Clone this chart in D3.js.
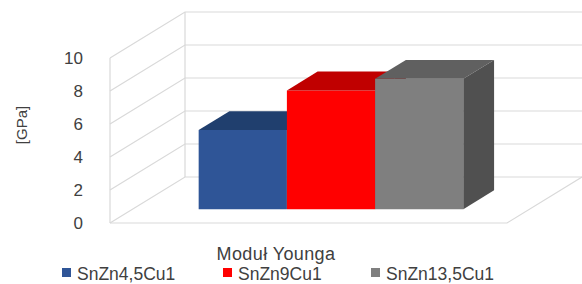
<!DOCTYPE html>
<html>
<head>
<meta charset="utf-8">
<script src="https://cdn.jsdelivr.net/npm/d3@7"></script>
<style>
  body { margin: 0; background: #fff; }
  text { font-family: "Liberation Sans", Arial, sans-serif; fill: #404040; }
</style>
</head>
<body>
<div id="chart"></div>
<script>
// data
var series = ["SnZn4,5Cu1", "SnZn9Cu1", "SnZn13,5Cu1"];
var values = [4.8, 7.2, 7.9];
var yTicks = [0, 2, 4, 6, 8, 10];
var category = "Moduł Younga";
var axisTitle = "[GPa]";

var frontColors = ["#2f5597", "#ff0000", "#7f7f7f"];
var topColors = ["#203f6e", "#c00000", "#606060"];
var sideColors = ["#1f3864", "#a00000", "#505050"];

const svgDimentions = { width: 582, height: 284 };

// depth offset of the 3d box
const depth = { dx: 75, dy: -46 };

var svg = d3.select("#chart").append("svg")
    .attr("width", svgDimentions.width)
    .attr("height", svgDimentions.height);

var scaleX = d3.scaleBand()
    .domain(series)
    .range([110, 507])
    .paddingInner(0)
    .paddingOuter(0.75);

var scaleY = d3.scaleLinear()
    .domain([0, 10])
    .range([223, 58]);

// z in [0,1] from front to back
function proj(x, v, z) {
    return [x + depth.dx * z, scaleY(v) + depth.dy * z];
}

function pts(list) {
    return list.map(p => p.join(",")).join(" ");
}

var grid = svg.append("g").attr("stroke", "#d9d9d9").attr("stroke-width", 1.2).attr("fill", "none");
var x0 = scaleX.range()[0], x1 = scaleX.range()[1];

// back wall and left wall lines
yTicks.forEach(function (t) {
    var a = proj(x0, t, 0), b = proj(x0, t, 1), c = proj(x1, t, 1);
    grid.append("polyline").attr("points", pts([a, b, c]));
});
grid.append("line")
    .attr("x1", proj(x0, 0, 0)[0]).attr("y1", proj(x0, 0, 0)[1])
    .attr("x2", proj(x0, 10, 0)[0]).attr("y2", proj(x0, 10, 0)[1]);
grid.append("line")
    .attr("x1", proj(x0, 0, 1)[0]).attr("y1", proj(x0, 0, 1)[1])
    .attr("x2", proj(x0, 10, 1)[0]).attr("y2", proj(x0, 10, 1)[1]);
// floor
grid.append("polyline").attr("points", pts([proj(x0, 0, 0), proj(x1, 0, 0), proj(x1, 0, 1)]));

// y tick labels
svg.append("g").selectAll("text")
    .data(yTicks)
    .enter().append("text")
    .attr("x", 83)
    .attr("y", d => scaleY(d) + 6)
    .attr("text-anchor", "end")
    .style("font-size", "17px")
    .text(d => d);

svg.append("text")
    .attr("transform", "translate(27,125) rotate(-90)")
    .attr("text-anchor", "middle")
    .style("font-size", "15px")
    .text(axisTitle);

// bars
var zFront = 0.3, zBack = 0.71;
var bars = svg.append("g").selectAll("g")
    .data(series.map((s, i) => ({ name: s, value: values[i], i: i })))
    .enter().append("g");

bars.append("polygon")
    .attr("fill", d => frontColors[d.i])
    .attr("points", function (d) {
        var l = scaleX(d.name), r = l + scaleX.bandwidth();
        return pts([proj(l, 0, zFront), proj(r, 0, zFront), proj(r, d.value, zFront), proj(l, d.value, zFront)]);
    });
bars.append("polygon")
    .attr("fill", d => topColors[d.i])
    .attr("points", function (d) {
        var l = scaleX(d.name), r = l + scaleX.bandwidth();
        return pts([proj(l, d.value, zFront), proj(r, d.value, zFront), proj(r, d.value, zBack), proj(l, d.value, zBack)]);
    });
bars.append("polygon")
    .attr("fill", d => sideColors[d.i])
    .attr("points", function (d) {
        var r = scaleX(d.name) + scaleX.bandwidth();
        return pts([proj(r, 0, zFront), proj(r, 0, zBack), proj(r, d.value, zBack), proj(r, d.value, zFront)]);
    });

// category label
svg.append("text")
    .attr("x", 276)
    .attr("y", 260)
    .attr("text-anchor", "middle")
    .style("font-size", "18px")
    .style("letter-spacing", "0.4px")
    .text(category);

// legend
var legendX = [62, 223, 371];
var legend = svg.append("g").selectAll("g")
    .data(series)
    .enter().append("g")
    .attr("transform", (d, i) => "translate(" + legendX[i] + ",0)");
legend.append("rect")
    .attr("x", 0).attr("y", 268)
    .attr("width", 9).attr("height", 9)
    .attr("fill", (d, i) => frontColors[i]);
legend.append("text")
    .attr("x", 15)
    .attr("y", 280)
    .style("font-size", "17.5px")
    .text(d => d);
</script>
</body>
</html>
